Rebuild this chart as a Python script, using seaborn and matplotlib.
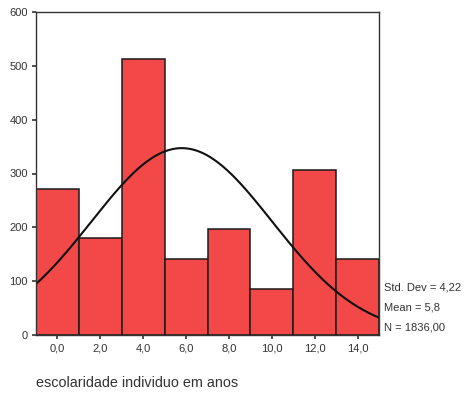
import numpy as np
import pandas as pd
import matplotlib
matplotlib.use("Agg")
import matplotlib.pyplot as plt
import seaborn as sns

# Data
centers = [0, 2, 4, 6, 8, 10, 12, 14]
counts = [272, 181, 512, 142, 196, 85, 307, 141]
tick_labels = ["0,0", "2,0", "4,0", "6,0", "8,0", "10,0", "12,0", "14,0"]
y_ticks = [0, 100, 200, 300, 400, 500, 600]
std_dev = 4.22
mean = 5.8
n_total = 1836
bin_width = 2

sns.set_style("white")
plt.rcParams['font.family'] = ['Liberation Sans', 'DejaVu Sans']

fig = plt.figure(figsize=(4.69, 3.96), dpi=100)
ax = fig.add_axes([36/469, 1-335/396, (379-36)/469, (335-12)/396])

df = pd.DataFrame({"x": centers, "w": counts})
sns.histplot(data=df, x="x", weights="w", binwidth=bin_width, binrange=(-1, 15),
             color="#F24848", alpha=1, edgecolor="#1a1a1a", linewidth=1.1, ax=ax)

xs = np.linspace(-1, 15, 300)
ys = n_total * bin_width * np.exp(-0.5 * ((xs - mean) / std_dev) ** 2) / (std_dev * np.sqrt(2 * np.pi))
sns.lineplot(x=xs, y=ys, color="#111111", linewidth=1.5, ax=ax)

ax.set_xlim(-1, 15)
ax.set_ylim(0, 600)
ax.set_xticks(centers)
ax.set_xticklabels(tick_labels)
ax.set_yticks(y_ticks)
ax.set_ylabel("")
ax.set_xlabel("")
ax.tick_params(axis='both', direction='out', length=3, width=1.2, labelsize=8,
               colors="#333333", pad=3, bottom=True, left=True)
for s in ax.spines.values():
    s.set_visible(True)
    s.set_color("#333333")
    s.set_linewidth(1.0)

fig.text(36/469, 1-383/396, "escolaridade individuo em anos", fontsize=10.4,
         color="#333333", ha="left", va="center")
stats = ["Std. Dev = 4,22", "Mean = 5,8", "N = 1836,00"]
for i, t in enumerate(stats):
    fig.text(384/469, 1-(287 + 20*i)/396, t, fontsize=8, color="#333333",
             ha="left", va="center")

fig.savefig("out.png", dpi=100)
